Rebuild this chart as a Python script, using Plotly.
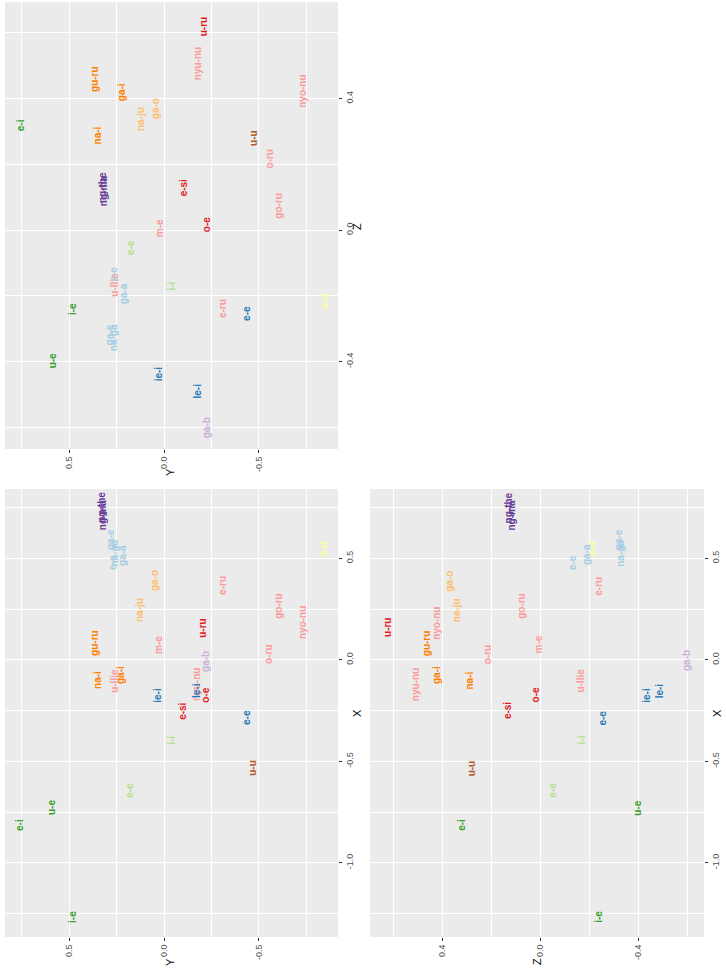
import plotly.graph_objects as go

# Pair labels, their group colour index and coordinates on the three dimensions
labels = ["e-i", "i-e", "u-e", "e-e", "i-i", "u-u", "o-u", "e-ru", "go-ru", "nyo-nu",
          "u-ru", "o-ru", "nyu-nu", "o-e", "e-si", "e-e", "le-i", "ie-i", "ga-b", "m-e",
          "gu-ru", "ga-i", "na-i", "ga-o", "na-ju", "u-llie", "ga-a", "e-e", "ga-e",
          "na-ga", "ng-the", "ng-ma"]
group = [3, 3, 3, 2, 2, 11, 10, 4, 4, 4,
         5, 4, 4, 5, 5, 1, 1, 1, 8, 4,
         7, 7, 7, 6, 6, 4, 0, 0, 0,
         0, 9, 9]
X = [-0.813, -1.266, -0.729, -0.640, -0.394, -0.532, 0.547, 0.365, 0.266, 0.182,
     0.158, 0.025, -0.123, -0.172, -0.251, -0.286, -0.153, -0.172, -0.005, 0.074,
     0.084, -0.074, -0.099, 0.389, 0.246, -0.103, 0.517, 0.478, 0.595,
     0.525, 0.750, 0.712]
Y = [0.758, 0.479, 0.589, 0.179, -0.042, -0.468, -0.842, -0.311, -0.605, -0.732,
     -0.205, -0.553, -0.174, -0.221, -0.100, -0.437, -0.174, 0.032, -0.221, 0.026,
     0.363, 0.226, 0.353, 0.047, 0.126, 0.258, 0.216, 0.268, 0.285,
     0.262, 0.326, 0.322]
Z = [0.319, -0.240, -0.399, -0.052, -0.169, 0.280, -0.216, -0.240, 0.074, 0.421,
     0.620, 0.215, 0.505, 0.018, 0.130, -0.255, -0.491, -0.436, -0.600, 0.006,
     0.460, 0.420, 0.288, 0.368, 0.338, -0.166, -0.192, -0.135, -0.318,
     -0.328, 0.128, 0.118]

palette = ["#A6CEE3", "#1F78B4", "#B2DF8A", "#33A02C", "#FB9A99", "#E31A1C",
           "#FDBF6F", "#FF7F00", "#CAB2D6", "#6A3D9A", "#FFFF99", "#B15928"]

W, H = 726, 974


def px(ix):
    return ix / W


def py(iy):
    return 1 - iy / H


fig = go.Figure()

# panel domains (paper coordinates)
dom_left = [px(5), px(338)]
dom_right = [px(370), px(704)]
dom_top = [py(449), py(2)]
dom_bot = [py(937), py(489)]

y_range = [0.837, -0.916]
z_range_v = [-0.666, 0.694]
z_range_h = [0.694, -0.669]
x_range = [-1.365, 0.842]

tick_font = dict(family="Liberation Sans, Arial, sans-serif", size=9, color="#4D4D4D")


def axis(domain, rng, major, minor, side, anchor):
    return dict(
        domain=domain, range=rng, anchor=anchor, side=side,
        tickmode="array", tickvals=major, ticktext=[f"{v:.1f}" for v in major],
        tickangle=-90, tickfont=tick_font,
        ticks="outside", ticklen=3, tickwidth=1, tickcolor="#333333",
        showgrid=True, gridcolor="white", gridwidth=1.1,
        minor=dict(tickmode="array", tickvals=minor, showgrid=True,
                   gridcolor="white", gridwidth=0.55, ticks=""),
        zeroline=False, showline=False, fixedrange=True,
    )


y_major, y_minor = [-0.5, 0.0, 0.5], [-0.75, -0.25, 0.25, 0.75]
z_major, z_minor = [-0.4, 0.0, 0.4], [-0.6, -0.2, 0.2, 0.6]
x_major, x_minor = [-1.0, -0.5, 0.0, 0.5], [-1.25, -0.75, -0.25, 0.25, 0.75]

layout = dict(
    width=W, height=H, margin=dict(l=0, r=0, t=0, b=0),
    paper_bgcolor="white", plot_bgcolor="#EBEBEB", showlegend=False,
    # top panel: Y across, Z up
    xaxis=axis(dom_left, y_range, y_major, y_minor, "bottom", "y"),
    yaxis=axis(dom_top, z_range_v, z_major, z_minor, "right", "x"),
    # lower left: Y across, X up
    xaxis2=axis(dom_left, y_range, y_major, y_minor, "bottom", "y2"),
    yaxis2=axis(dom_bot, x_range, x_major, x_minor, "right", "x2"),
    # lower right: Z across, X up
    xaxis3=axis(dom_right, z_range_h, z_major, z_minor, "bottom", "y3"),
    yaxis3=axis(dom_bot, x_range, x_major, x_minor, "right", "x3"),
)
fig.update_layout(**layout)

# invisible anchor traces so every subplot is drawn
for xa, ya in [("x", "y"), ("x2", "y2"), ("x3", "y3")]:
    fig.add_trace(go.Scatter(x=[None], y=[None], xaxis=xa, yaxis=ya,
                             mode="markers", hoverinfo="skip"))

annotations = []
panels = [("x", "y", Y, Z), ("x2", "y2", Y, X), ("x3", "y3", Z, X)]
for xr, yr, hv, vv in panels:
    for lab, g, a, b in zip(labels, group, hv, vv):
        annotations.append(dict(
            x=a, y=b, xref=xr, yref=yr, text=lab, showarrow=False,
            textangle=-90, xanchor="center", yanchor="middle",
            font=dict(family="Liberation Sans, Arial, sans-serif", size=10,
                      color=palette[g], weight="bold"),
        ))

title_font = dict(family="Liberation Sans, Arial, sans-serif", size=11, color="black")
for t, ix, iy in [("Z", 357, 227), ("Y", 170, 472), ("X", 357, 713),
                  ("Y", 170, 962), ("Z", 537, 962), ("X", 717, 713)]:
    annotations.append(dict(x=px(ix), y=py(iy), xref="paper", yref="paper",
                            text=t, showarrow=False, textangle=-90,
                            xanchor="center", yanchor="middle", font=title_font))

fig.update_layout(annotations=annotations)
fig.write_html("out.html")
